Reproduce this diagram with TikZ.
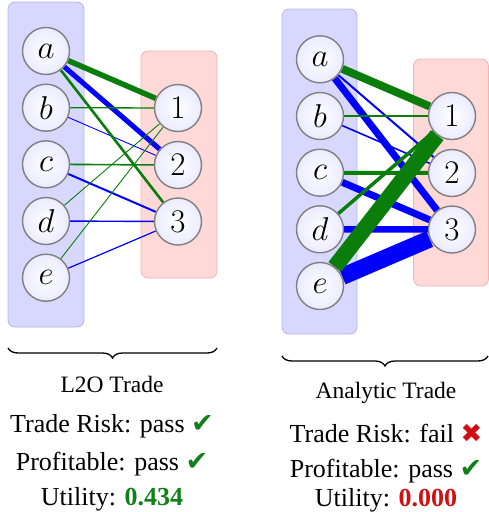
\RequirePackage{fix-cm}
\documentclass[tikz,border=0pt]{standalone}
\usepackage{fontspec}
\setmainfont{Liberation Serif}
\newfontfamily\symfont{DejaVu Sans}
\usetikzlibrary{decorations.pathreplacing}
\pgfdeclarelayer{back}
\pgfdeclarelayer{edges}
\pgfsetlayers{back,edges,main}
\definecolor{eg}{HTML}{0A7D0A}
\definecolor{eb}{HTML}{0000FF}
\definecolor{okg}{HTML}{12801A}
\definecolor{bad}{HTML}{D01010}
\definecolor{bluefill}{HTML}{D8D8FF}
\definecolor{blueline}{HTML}{B4B4EC}
\definecolor{redfill}{HTML}{FFD8D8}
\definecolor{redline}{HTML}{F0B4B4}
\tikzset{
  bluepanel/.style={rectangle, rounded corners=7pt, fill=bluefill, draw=blueline, line width=0.8pt, minimum width=76pt, minimum height=325pt, inner sep=0pt},
  redpanel/.style={rectangle, rounded corners=7pt, fill=redfill, draw=redline, line width=0.8pt, minimum width=76pt, minimum height=227pt, inner sep=0pt},
  ball/.style={circle, minimum size=47pt, inner sep=0pt, draw=black!50, line width=1.4pt, inner color=white, outer color=blue!8, font=\fontsize{33}{35}\selectfont},
  ge/.style={eg, line width=#1},
  be/.style={eb, line width=#1},
  title/.style={anchor=base, font=\fontsize{23.5}{26}\selectfont},
  stat/.style={anchor=base, font=\fontsize{26}{30}\selectfont},
  bracestyle/.style={decorate, decoration={brace, amplitude=10pt, mirror}, line width=1.3pt}
}
\newcommand{\okmark}{{\symfont\fontsize{27}{28}\selectfont\textcolor{okg}{\char"2714}}}
\newcommand{\badmark}{{\symfont\fontsize{26}{28}\selectfont\textcolor{bad}{\char"2716}}}
\begin{document}
\begin{tikzpicture}[x=1pt,y=-1pt]
\useasboundingbox (0,0) rectangle (489,512);
\begin{pgfonlayer}{back}
\node[bluepanel] (LB) at (46,164.5) {};
\node[redpanel] (LR) at (179,164.5) {};
\node[bluepanel, minimum width=75pt] (RB) at (319.5,171.5) {};
\node[redpanel, minimum width=75pt] (RR) at (451,172.5) {};
\end{pgfonlayer}

% left graph nodes
\node[ball] (La) at (46,51) {$a$};
\node[ball] (Lb) at (46,107.7) {$b$};
\node[ball] (Lc) at (46,164.3) {$c$};
\node[ball] (Ld) at (46,221) {$d$};
\node[ball] (Le) at (46,277.7) {$e$};
\node[ball] (L1) at (178,108) {$1$};
\node[ball] (L2) at (178,165) {$2$};
\node[ball] (L3) at (178,221.5) {$3$};

% right graph nodes
\node[ball] (Ra) at (320,59.3) {$a$};
\node[ball] (Rb) at (320,116) {$b$};
\node[ball] (Rc) at (320,172.7) {$c$};
\node[ball] (Rd) at (320,229.3) {$d$};
\node[ball] (Re) at (320,286) {$e$};
\node[ball] (R1) at (452,116) {$1$};
\node[ball] (R2) at (452,173) {$2$};
\node[ball] (R3) at (452,229.5) {$3$};

\begin{pgfonlayer}{edges}
% left: blue
\draw[be=5pt] (La) -- (L2);
\draw[be=0.9pt] (Lb) -- (L2);
\draw[be=2pt] (Lc) -- (L3);
\draw[be=1.4pt] (Ld) -- (L3);
\draw[be=1.2pt] (Le) -- (L3);
% left: green
\draw[ge=5.5pt] (La) -- (L1);
\draw[ge=2.6pt] (La) -- (L3);
\draw[ge=1.3pt] (Lb) -- (L1);
\draw[ge=1.6pt] (Lc) -- (L2);
\draw[ge=0.9pt] (Ld) -- (L1);
\draw[ge=0.9pt] (Le) -- (L1);
% right: blue
\draw[be=2pt] (Ra) -- (R2);
\draw[be=7pt] (Ra) -- (R3);
\draw[be=1.6pt] (Rb) -- (R2);
\draw[be=7pt] (Rc) -- (R3);
\draw[be=6.5pt] (Rd) -- (R3);
\draw[be=17pt] (Re) -- (R3);
% right: green
\draw[ge=8pt] (Ra) -- (R1);
\draw[ge=2.2pt] (Rb) -- (R1);
\draw[ge=4pt] (Rc) -- (R2);
\draw[ge=3.5pt] (Rd) -- (R1);
\draw[ge=16pt] (Re) -- (R1);
\end{pgfonlayer}

% braces
\coordinate (lb1) at (8,348);
\coordinate (lb2) at (217,348);
\coordinate (rb1) at (282,356);
\coordinate (rb2) at (488,356);
\draw[bracestyle] (lb1) -- (lb2);
\draw[bracestyle] (rb1) -- (rb2);

% texts
\node[title] (Lt) at (112,392) {L2O Trade};
\node[stat] (Ls1) at (112,432) {Trade Risk: pass \okmark};
\node[stat] (Ls2) at (112,470) {Profitable: pass \okmark};
\node[stat] (Ls3) at (112,505.5) {Utility: \textbf{\textcolor{okg}{0.434}}};

\node[title] (Rt) at (386,398) {Analytic Trade};
\node[stat] (Rs1) at (386,442) {Trade Risk: fail \badmark};
\node[stat] (Rs2) at (386,477) {Profitable: pass \okmark};
\node[stat] (Rs3) at (386,506) {Utility: \textbf{\textcolor{bad}{0.000}}};
\end{tikzpicture}
\end{document}
